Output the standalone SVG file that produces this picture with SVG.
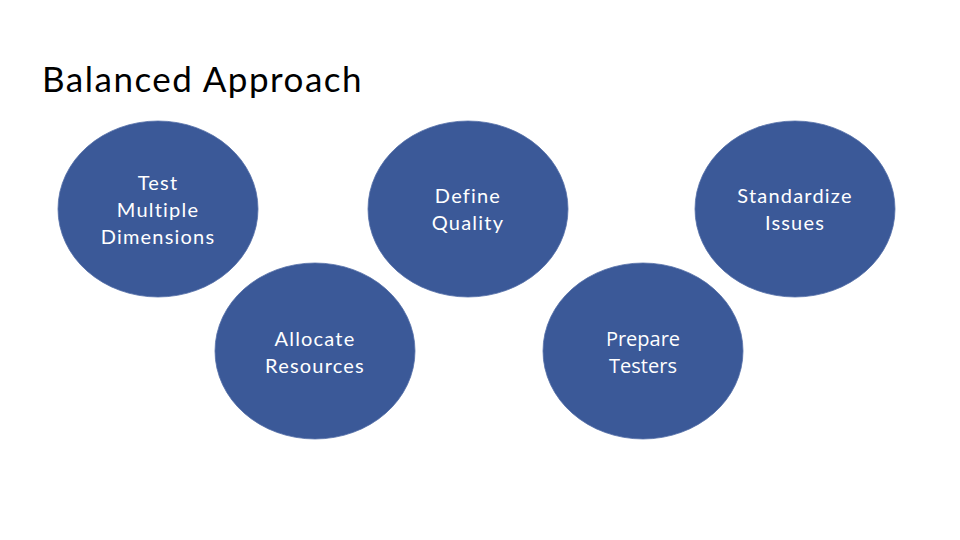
<svg xmlns="http://www.w3.org/2000/svg" width="960" height="540" viewBox="0 0 960 540">
<style>
.n{fill:#3b5998;stroke:#5670a8;stroke-width:0.8}
.t{font-family:Lato,"Open Sans","Liberation Sans",sans-serif;font-size:20px;letter-spacing:1.2px;fill:#ffffff;text-anchor:middle}
.t2{font-family:"Open Sans","Liberation Sans",sans-serif;font-size:20px;fill:#ffffff;text-anchor:middle}
.title{font-family:Lato,"Liberation Sans",sans-serif;font-size:35px;letter-spacing:1.5px;fill:#000000}
</style>
<rect width="960" height="540" fill="#ffffff"/>
<text class="title" x="42" y="92">Balanced Approach</text>
<g id="connectors"/>
<g id="test-multiple-dimensions">
<ellipse class="n" cx="158" cy="209" rx="100" ry="88"/>
<text class="t" x="158" y="190">Test</text>
<text class="t" x="158" y="217">Multiple</text>
<text class="t" x="158" y="244">Dimensions</text>
</g>
<g id="define-quality">
<ellipse class="n" cx="468" cy="209" rx="100" ry="88"/>
<text class="t" x="468" y="203">Define</text>
<text class="t" x="468" y="230">Quality</text>
</g>
<g id="standardize-issues">
<ellipse class="n" cx="795" cy="209" rx="100" ry="88"/>
<text class="t" x="795" y="203">Standardize</text>
<text class="t" x="795" y="230">Issues</text>
</g>
<g id="allocate-resources">
<ellipse class="n" cx="315" cy="351" rx="100" ry="88"/>
<text class="t" x="315" y="346">Allocate</text>
<text class="t" x="315" y="373">Resources</text>
</g>
<g id="prepare-testers">
<ellipse class="n" cx="643" cy="351" rx="100" ry="88"/>
<text class="t2" x="643" y="346">Prepare</text>
<text class="t2" x="643" y="373">Testers</text>
</g>
</svg>
